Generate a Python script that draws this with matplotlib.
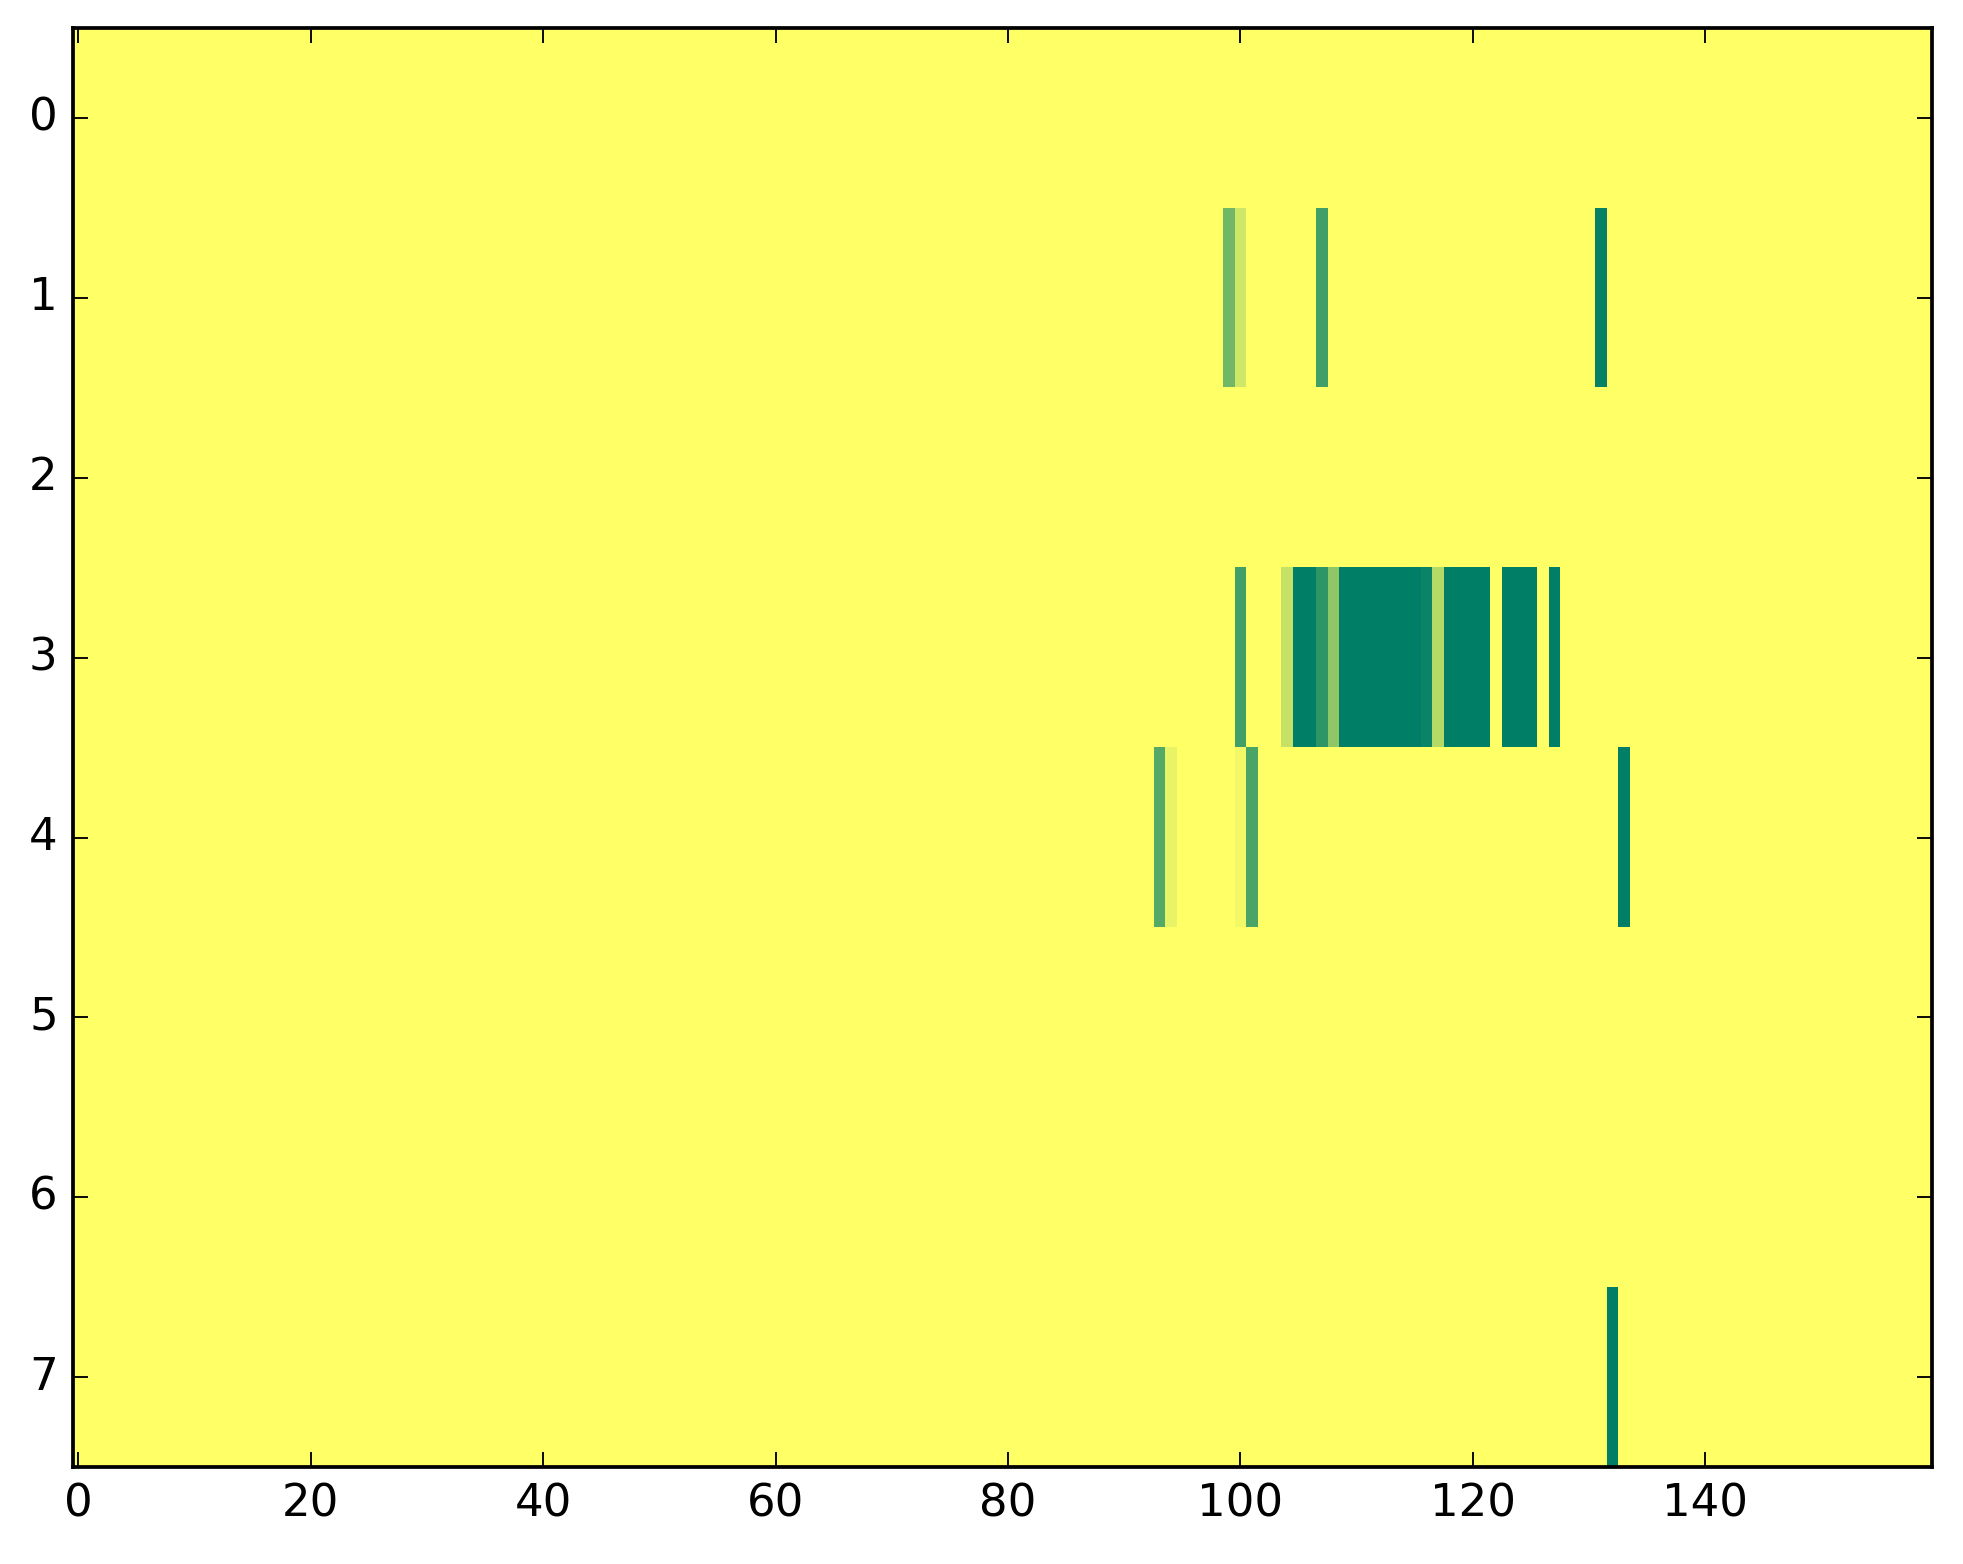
import numpy as np
import matplotlib
matplotlib.use("Agg")
import matplotlib.pyplot as plt

plt.style.use("classic")

n_rows = 8
n_cols = 160

# (row, column, value) for non-zero cells
row_1_cols = [99, 100, 107, 131]
row_1_vals = [0.56, 0.19, 0.75, 0.98]

row_3_cols = [100, 104, 105, 106, 107, 108, 109, 110, 111, 112, 113, 114, 115,
              116, 117, 118, 119, 120, 121, 123, 124, 125, 127]
row_3_vals = [0.75, 0.23, 1.0, 1.0, 0.82, 0.44, 1.0, 1.0, 1.0, 1.0, 1.0, 1.0, 1.0,
              0.96, 0.30, 1.0, 1.0, 1.0, 1.0, 1.0, 1.0, 1.0, 1.0]

row_4_cols = [93, 94, 100, 101, 133]
row_4_vals = [0.67, 0.09, 0.05, 0.71, 1.0]

row_7_cols = [132]
row_7_vals = [1.0]

data = np.zeros((n_rows, n_cols))
for r, cols, vals in [(1, row_1_cols, row_1_vals), (3, row_3_cols, row_3_vals),
                      (4, row_4_cols, row_4_vals), (7, row_7_cols, row_7_vals)]:
    data[r, cols] = vals

dpi = 270
fig = plt.figure(figsize=(1963 / dpi, 1564 / dpi), dpi=dpi)
ax = fig.add_axes([0.037, 0.062, 0.947, 0.920])
ax.imshow(data, cmap="summer_r", aspect="auto", interpolation="nearest",
          vmin=0, vmax=1)
ax.set_xticks([0, 20, 40, 60, 80, 100, 120, 140])
ax.set_yticks(range(8))
ax.tick_params(labelsize=12)
fig.savefig("out.png", dpi=dpi)
